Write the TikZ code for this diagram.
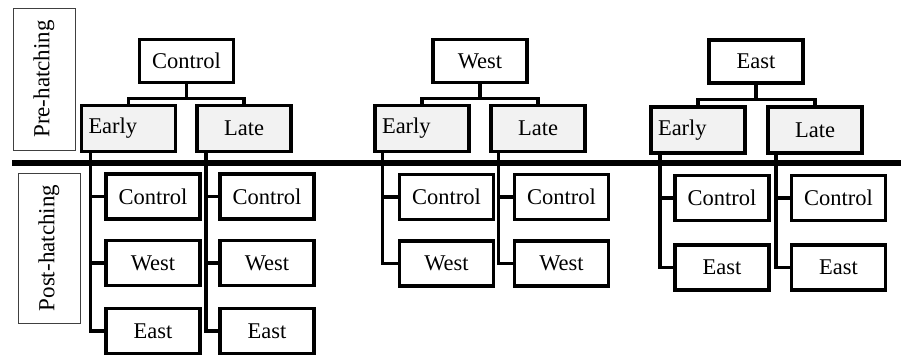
\documentclass[tikz,border=0pt]{standalone}
\usepackage{fontspec}
\setmainfont{Liberation Serif}
\usetikzlibrary{calc}
\begin{document}
\begin{tikzpicture}[x=1pt,y=-1pt,
  box/.style={draw, line width=3.4pt, minimum width=94pt, minimum height=45pt, inner sep=0pt, font=\fontsize{22.5}{25}\selectfont},
  topbox/.style={box, minimum height=43pt},
  midbox/.style={box, fill=gray!10, minimum height=46pt},
  earlybox/.style={midbox, text width=80pt, align=left, inner xsep=7pt},
  childbox/.style={box, minimum width=94pt, minimum height=45pt},
  phase/.style={draw=black!75, line width=0.8pt, rotate=90, inner sep=0pt, font=\fontsize{23}{25}\selectfont, minimum height=62pt},
  conn/.style={line width=3.4pt}]
\useasboundingbox (0,0) rectangle (901,356);

% phase labels
\node[phase, minimum width=142pt] (pre) at (44,79) {Pre-hatching};
\node[phase, minimum width=150pt] (post) at (49,248) {Post-hatching};

% divider
\coordinate (dl) at (12,163);
\coordinate (dr) at (901,163);
\draw[line width=6pt] (dl) -- (dr);

% group 1
\node[topbox] (T1) at (186.5,61) {Control};
\node[earlybox] (E1) at (128.5,128.5) {Early};
\node[midbox] (L1) at (244,128.5) {Late};
\node[childbox] (a11) at (153,196.5) {Control};
\node[childbox] (a12) at (153,263) {West};
\node[childbox] (a13) at (153,331) {East};
\node[childbox] (b11) at (267,196.5) {Control};
\node[childbox] (b12) at (267,263) {West};
\node[childbox] (b13) at (267,331) {East};

% group 2
\node[topbox] (T2) at (480,61) {West};
\node[earlybox] (E2) at (422,128.5) {Early};
\node[midbox] (L2) at (538,128.5) {Late};
\node[childbox] (a21) at (446.5,197) {Control};
\node[childbox] (a22) at (446.5,263.5) {West};
\node[childbox] (b21) at (561.5,197) {Control};
\node[childbox] (b22) at (561.5,263.5) {West};

% group 3
\node[topbox] (T3) at (756,61.5) {East};
\node[earlybox] (E3) at (698,130) {Early};
\node[midbox] (L3) at (815,130) {Late};
\node[childbox] (a31) at (722,198) {Control};
\node[childbox] (a32) at (722,267.5) {East};
\node[childbox] (b31) at (838.5,198) {Control};
\node[childbox] (b32) at (838.5,267.5) {East};

% top connectors
\foreach \g in {1,2,3}{
  \draw[conn] (T\g.south) -- ++(0,14.5) coordinate (bar\g);
  \draw[conn] (E\g.north) |- (bar\g) -| (L\g.north);
}

% trunks group 1
\draw[conn] ($(E1.south west)+(10.5,0)$) coordinate (te1) |- (a13.west);
\draw[conn] (te1) |- (a11.west);
\draw[conn] (te1) |- (a12.west);
\draw[conn] ($(L1.south west)+(10.5,0)$) coordinate (tl1) |- (b13.west);
\draw[conn] (tl1) |- (b11.west);
\draw[conn] (tl1) |- (b12.west);

% trunks group 2
\draw[conn] ($(E2.south west)+(9,0)$) coordinate (te2) |- (a22.west);
\draw[conn] (te2) |- (a21.west);
\draw[conn] ($(L2.south west)+(9,0)$) coordinate (tl2) |- (b22.west);
\draw[conn] (tl2) |- (b21.west);

% trunks group 3
\draw[conn] ($(E3.south west)+(10.5,0)$) coordinate (te3) |- (a32.west);
\draw[conn] (te3) |- (a31.west);
\draw[conn] ($(L3.south west)+(9.5,0)$) coordinate (tl3) |- (b32.west);
\draw[conn] (tl3) |- (b31.west);
\end{tikzpicture}
\end{document}
